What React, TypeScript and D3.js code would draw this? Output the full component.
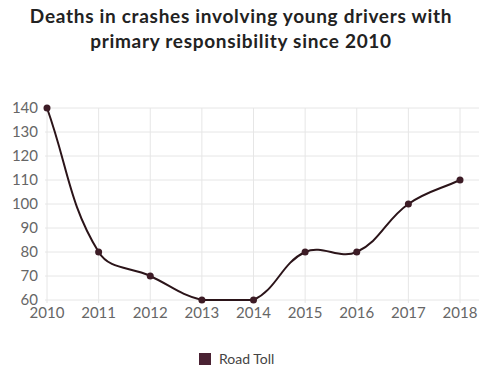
import React from "react";
import * as d3 from "d3";

const years = ["2010", "2011", "2012", "2013", "2014", "2015", "2016", "2017", "2018"];
const roadToll = [140, 80, 70, 60, 60, 80, 80, 100, 110];
const yTicks = [60, 70, 80, 90, 100, 110, 120, 130, 140];
const titleLines = ["Deaths in crashes involving young drivers with", "primary responsibility since 2010"];
const seriesName = "Road Toll";

const W = 500;
const H = 376;
const left = 47;
const right = 460;
const top = 108;
const bottom = 300;
const gridRight = 479;

export default function App() {
  const x = d3.scalePoint<string>().domain(years).range([left, right]);
  const y = d3.scaleLinear().domain([60, 140]).range([bottom, top]);

  const pts = years.map((yr, i) => ({ x: x(yr) as number, y: y(roadToll[i]) }));

  // Chart.js-style spline (tension 0.4) with control points capped to chart area
  const t = 0.4;
  const cps = pts.map((p, i) => {
    const prev = pts[i - 1] || p;
    const next = pts[i + 1] || p;
    const d01 = Math.hypot(p.x - prev.x, p.y - prev.y);
    const d12 = Math.hypot(next.x - p.x, next.y - p.y);
    let s01 = d01 / (d01 + d12);
    let s12 = d12 / (d01 + d12);
    if (isNaN(s01)) s01 = 0;
    if (isNaN(s12)) s12 = 0;
    const fa = t * s01;
    const fb = t * s12;
    const cap = (v: number, lo: number, hi: number) => Math.max(lo, Math.min(hi, v));
    return {
      px: cap(p.x - fa * (next.x - prev.x), left, right),
      py: cap(p.y - fa * (next.y - prev.y), top, bottom),
      nx: cap(p.x + fb * (next.x - prev.x), left, right),
      ny: cap(p.y + fb * (next.y - prev.y), top, bottom),
    };
  });
  const path = d3.path();
  pts.forEach((p, i) => {
    if (i === 0) path.moveTo(p.x, p.y);
    else {
      const a = cps[i - 1];
      const b = cps[i];
      path.bezierCurveTo(a.nx, a.ny, b.px, b.py, p.x, p.y);
    }
  });

  const lineColor = "#2b1419";
  const font = "Lato, 'Open Sans', sans-serif";

  return (
    <svg width={W} height={H} style={{ position: "absolute", left: 0, top: 0, background: "#fff" }}>
      {titleLines.map((l, i) => (
        <text
          key={i}
          x={241}
          y={23 + i * 25}
          textAnchor="middle"
          fontFamily={font}
          fontWeight={700}
          fontSize={19}
          letterSpacing={0.7}
          fill="#222"
        >
          {l}
        </text>
      ))}
      {yTicks.map((v) => (
        <g key={v}>
          <line x1={left - 2} x2={gridRight} y1={y(v)} y2={y(v)} stroke="#e6e6e6" strokeWidth={1} />
          <text
            x={38}
            y={y(v)}
            dy="0.35em"
            textAnchor="end"
            fontFamily={font}
            fontSize={15}
            fill="#666"
          >
            {v}
          </text>
        </g>
      ))}
      {years.map((yr) => (
        <g key={yr}>
          <line x1={x(yr)} x2={x(yr)} y1={top} y2={bottom + 3} stroke="#e6e6e6" strokeWidth={1} />
          <text
            x={x(yr)}
            y={318}
            textAnchor="middle"
            fontFamily={font}
            fontSize={15}
            fill="#666"
          >
            {yr}
          </text>
        </g>
      ))}
      <path d={path.toString()} fill="none" stroke={lineColor} strokeWidth={2} />
      {pts.map((p, i) => (
        <circle key={i} cx={p.x} cy={p.y} r={3.5} fill="#3d1c26" />
      ))}
      <rect x={199} y={353} width={12} height={12} fill="#4a2233" />
      <text x={219} y={359} dy="0.35em" fontFamily={font} fontSize={14} fill="#444">
        {seriesName}
      </text>
    </svg>
  );
}
